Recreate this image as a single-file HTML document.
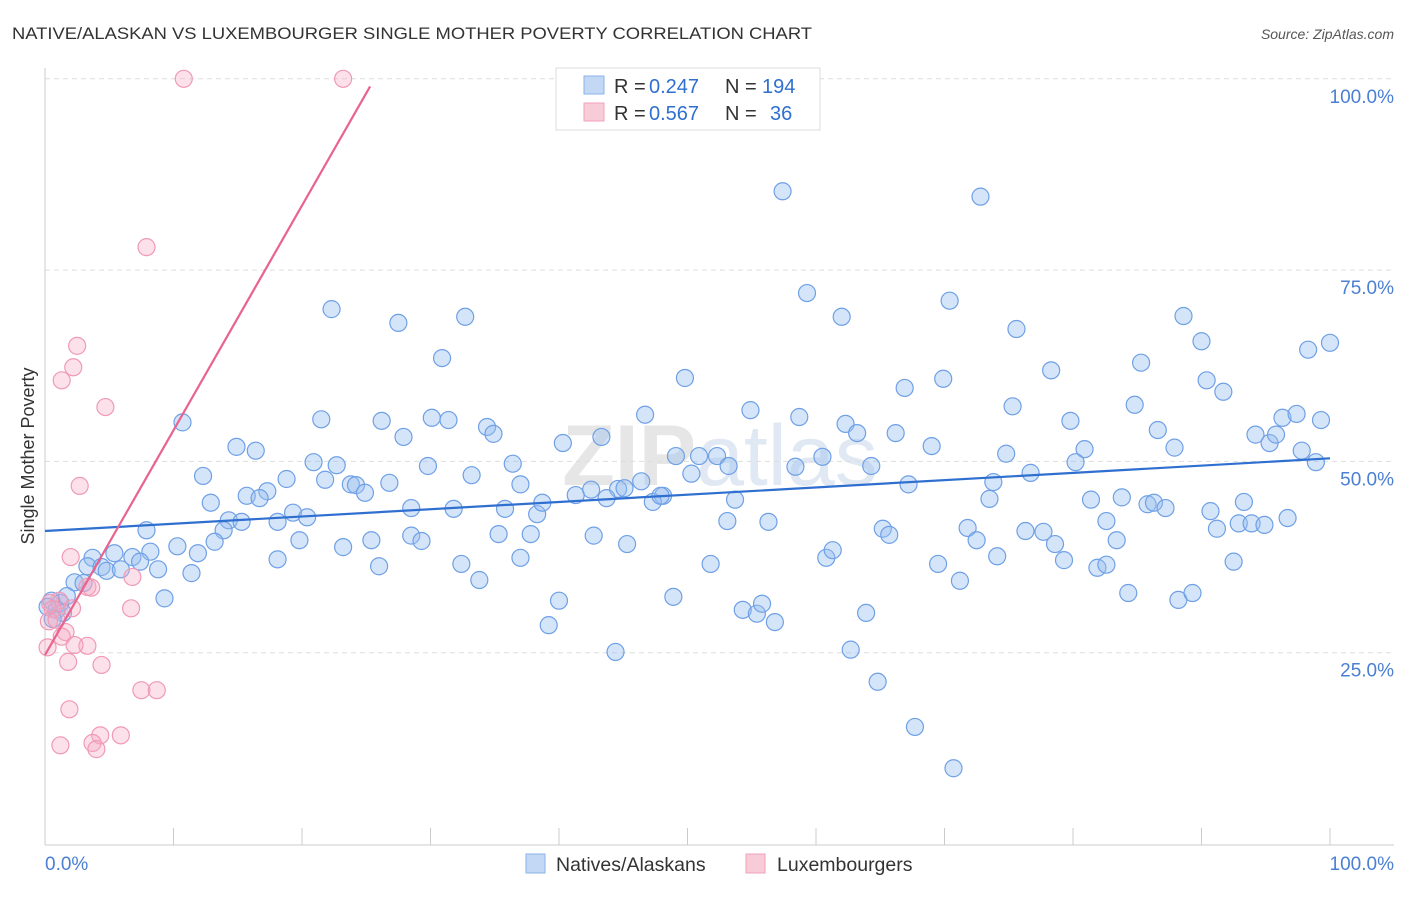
<!DOCTYPE html>
<html><head><meta charset="utf-8"><style>
body{margin:0;background:#fff;font-family:"Liberation Sans",sans-serif;}
svg text{font-family:"Liberation Sans",sans-serif;}
</style></head><body>
<svg id="chart" width="1406" height="892" viewBox="0 0 1406 892">
<text x="12" y="39" font-size="17" fill="#333" textLength="800" lengthAdjust="spacingAndGlyphs">NATIVE/ALASKAN VS LUXEMBOURGER SINGLE MOTHER POVERTY CORRELATION CHART</text>
<text x="1394" y="39" font-size="14" fill="#555" font-style="italic" text-anchor="end">Source: ZipAtlas.com</text>
<text x="720" y="485" font-size="86" fill="#e6e6e6" text-anchor="middle" font-weight="bold">ZIP<tspan fill="#dfe8f3" font-weight="normal">atlas</tspan></text>
<g id="grid"></g>
<line x1="45" y1="68" x2="45" y2="845" stroke="#ccc"/>
<line x1="45" y1="845" x2="1394" y2="845" stroke="#ccc"/>
<g id="ticks"></g>
<text transform="translate(34,456) rotate(-90)" font-size="18" fill="#333" text-anchor="middle">Single Mother Poverty</text>
<text x="45" y="870" font-size="19" fill="#4a7fd4">0.0%</text>
<text x="1394" y="870" font-size="19" fill="#4a7fd4" text-anchor="end">100.0%</text>
<g id="points"></g>
<g id="trends"></g>
<g>
<rect x="556" y="68" width="264" height="62" fill="#fff" stroke="#ddd"/>
<rect x="584" y="76" width="20" height="18" fill="#c3d8f5" stroke="#8ab4e8"/>
<rect x="584" y="103" width="20" height="18" fill="#f8cbd8" stroke="#f0a0b8"/>
<text x="614" y="93" font-size="20" fill="#333">R =</text>
<text x="649" y="93" font-size="20" fill="#2f6fd0">0.247</text>
<text x="725" y="93" font-size="20" fill="#333">N =</text>
<text x="762" y="93" font-size="20" fill="#2f6fd0">194</text>
<text x="614" y="120" font-size="20" fill="#333">R =</text>
<text x="649" y="120" font-size="20" fill="#2f6fd0">0.567</text>
<text x="725" y="120" font-size="20" fill="#333">N =</text>
<text x="770" y="120" font-size="20" fill="#2f6fd0">36</text>
</g>
<g>
<rect x="526" y="854" width="19" height="19" fill="#c3d8f5" stroke="#8ab4e8"/>
<text x="556" y="871" font-size="19.5" fill="#333">Natives/Alaskans</text>
<rect x="746" y="854" width="19" height="19" fill="#f8cbd8" stroke="#f0a0b8"/>
<text x="777" y="871" font-size="19.5" fill="#333">Luxembourgers</text>
</g>
</svg>
<script>
const yTicks=[100,75,50,25];
const yTickLabels=["100.0%","75.0%","50.0%","25.0%"];
const xTicks=[0,10,20,30,40,50,60,70,80,90,100];
const blueX=[57.4,72.8,59.3,22.3,27.5,32.7,62.0,70.4,75.6,88.6,90.0,100,98.3,30.9,49.8,69.9,78.3,85.3,90.4,91.7,66.9,10.7,21.5,26.2,30.1,31.4,34.4,34.9,46.7,54.9,58.7,62.3,63.2,66.2,75.3,79.8,84.8,86.6,96.3,97.4,99.3,14.9,16.4,27.9,43.3,40.3,69.0,74.8,80.9,87.9,94.2,95.3,95.8,97.8,98.9,12.3,20.9,22.7,29.8,36.4,33.2,49.1,50.9,52.3,53.2,60.5,58.4,64.3,80.2,17.3,18.8,21.8,23.8,24.2,24.9,26.8,15.7,16.7,37.0,42.5,44.6,45.1,46.4,48.1,50.3,67.2,73.8,76.7,12.9,28.5,31.8,35.8,38.3,38.7,41.3,43.7,47.3,47.9,53.7,73.5,81.4,83.8,85.8,86.3,87.2,7.9,14.3,18.1,19.3,20.4,15.3,13.9,53.1,56.3,82.6,90.7,93.3,96.7,91.2,92.9,93.9,94.9,13.2,10.3,19.8,23.2,25.4,28.5,29.3,35.3,37.8,42.7,45.3,65.2,65.7,71.8,72.5,76.3,77.7,78.6,83.4,8.2,11.9,5.4,6.8,7.4,3.7,18.1,26.0,32.4,37.0,51.8,60.8,61.3,69.5,74.1,79.3,81.9,82.6,92.5,3.3,4.4,4.8,5.9,8.8,11.4,33.8,71.2,2.3,3.0,9.3,40.0,48.9,54.3,55.4,55.8,56.8,63.9,84.3,88.2,89.3,0.5,1.2,1.7,0.9,0.2,1.4,0.6,39.2,44.4,62.7,64.8,67.7,70.7];
const blueY=[85.3,84.6,72.0,69.9,68.1,68.9,68.9,71.0,67.3,69.0,65.7,65.5,64.6,63.5,60.9,60.8,61.9,62.9,60.6,59.1,59.6,55.1,55.5,55.3,55.7,55.4,54.5,53.6,56.1,56.7,55.8,54.9,53.7,53.7,57.2,55.3,57.4,54.1,55.7,56.2,55.4,51.9,51.4,53.2,53.2,52.4,52.0,51.0,51.6,51.8,53.5,52.4,53.5,51.4,49.9,48.1,49.9,49.5,49.4,49.7,48.2,50.7,50.7,50.7,49.4,50.6,49.3,49.4,49.9,46.1,47.7,47.6,47.0,46.9,45.9,47.2,45.5,45.2,47.0,46.3,46.4,46.5,47.4,45.5,48.4,47.0,47.3,48.5,44.6,43.9,43.8,43.8,43.1,44.6,45.6,45.2,44.7,45.5,45.0,45.1,45.0,45.3,44.4,44.6,43.9,41.0,42.3,42.1,43.3,42.7,42.1,41.0,42.2,42.1,42.2,43.5,44.7,42.6,41.2,41.9,41.9,41.7,39.5,38.9,39.7,38.8,39.7,40.3,39.6,40.5,40.5,40.3,39.2,41.2,40.4,41.3,39.7,40.9,40.8,39.2,39.7,38.2,38.0,38.0,37.5,36.9,37.4,37.2,36.3,36.6,37.4,36.6,37.4,38.4,36.6,37.6,37.1,36.1,36.5,36.9,36.3,36.2,35.7,35.9,35.9,35.4,34.5,34.4,34.2,34.1,32.1,31.8,32.3,30.6,30.1,31.4,29.0,30.2,32.8,31.9,32.8,31.8,31.5,32.4,30.6,31.0,30.2,29.4,28.6,25.1,25.4,21.2,15.3,9.9];
const pinkX=[10.8,23.2,7.9,2.5,2.2,1.3,4.7,2.7,2.0,3.3,3.6,6.8,1.1,0.4,0.6,2.1,6.7,0.3,0.9,1.6,1.3,3.3,2.3,0.2,1.8,4.4,7.5,8.7,1.9,1.2,4.3,5.9,3.7,4.0];
const pinkY=[100,100,78.0,65.1,62.3,60.6,57.1,46.8,37.5,33.6,33.5,34.9,31.8,31.5,30.7,30.8,30.8,29.1,29.3,27.7,27.1,25.9,26.0,25.7,23.8,23.4,20.1,20.1,17.6,12.9,14.2,14.2,13.2,12.4];
const blueTrend=[[0,40.9],[100,50.4]];
const pinkTrend=[[0,24.7],[25.3,99]];

const NS="http://www.w3.org/2000/svg";
const xs=v=>45+v*12.85;
const ys=v=>844-v*7.652;
function mk(tag,attrs,parent){const e=document.createElementNS(NS,tag);for(const k in attrs)e.setAttribute(k,attrs[k]);parent.appendChild(e);return e;}
const grid=document.getElementById('grid'),ticks=document.getElementById('ticks'),pts=document.getElementById('points'),tr=document.getElementById('trends');
yTicks.forEach((t,i)=>{
  const l=mk('line',{x1:45,x2:1394,y1:ys(t),y2:ys(t),stroke:'#ddd','stroke-dasharray':'5,4'},grid);
  
  
  const tx=mk('text',{x:1394,y:ys(t)+24,'font-size':19,fill:'#4a7fd4','text-anchor':'end'},grid);
  tx.textContent=yTickLabels[i];
  
  
});
xTicks.forEach(t=>{
  const l=mk('line',{x1:xs(t),x2:xs(t),y1:828,y2:845,stroke:'#ccc'},ticks);
  
  
});
blueX.forEach((x,i)=>{
  const c=mk('circle',{cx:xs(x),cy:ys(blueY[i]),r:8.5,fill:'rgba(150,190,240,0.4)',stroke:'#6fa0e6','stroke-width':1.2},pts);
  
  
});
pinkX.forEach((x,i)=>{
  const c=mk('circle',{cx:xs(x),cy:ys(pinkY[i]),r:8.5,fill:'rgba(245,170,195,0.35)',stroke:'#f09ab5','stroke-width':1.2},pts);
  
  
});
const bl=mk('line',{x1:xs(blueTrend[0][0]),y1:ys(blueTrend[0][1]),x2:xs(blueTrend[1][0]),y2:ys(blueTrend[1][1]),stroke:'#2f6fd0','stroke-width':2.2},tr);


const pl=mk('line',{x1:xs(pinkTrend[0][0]),y1:ys(pinkTrend[0][1]),x2:xs(pinkTrend[1][0]),y2:ys(pinkTrend[1][1]),stroke:'#e8638e','stroke-width':2.2},tr);


</script>
</body></html>
